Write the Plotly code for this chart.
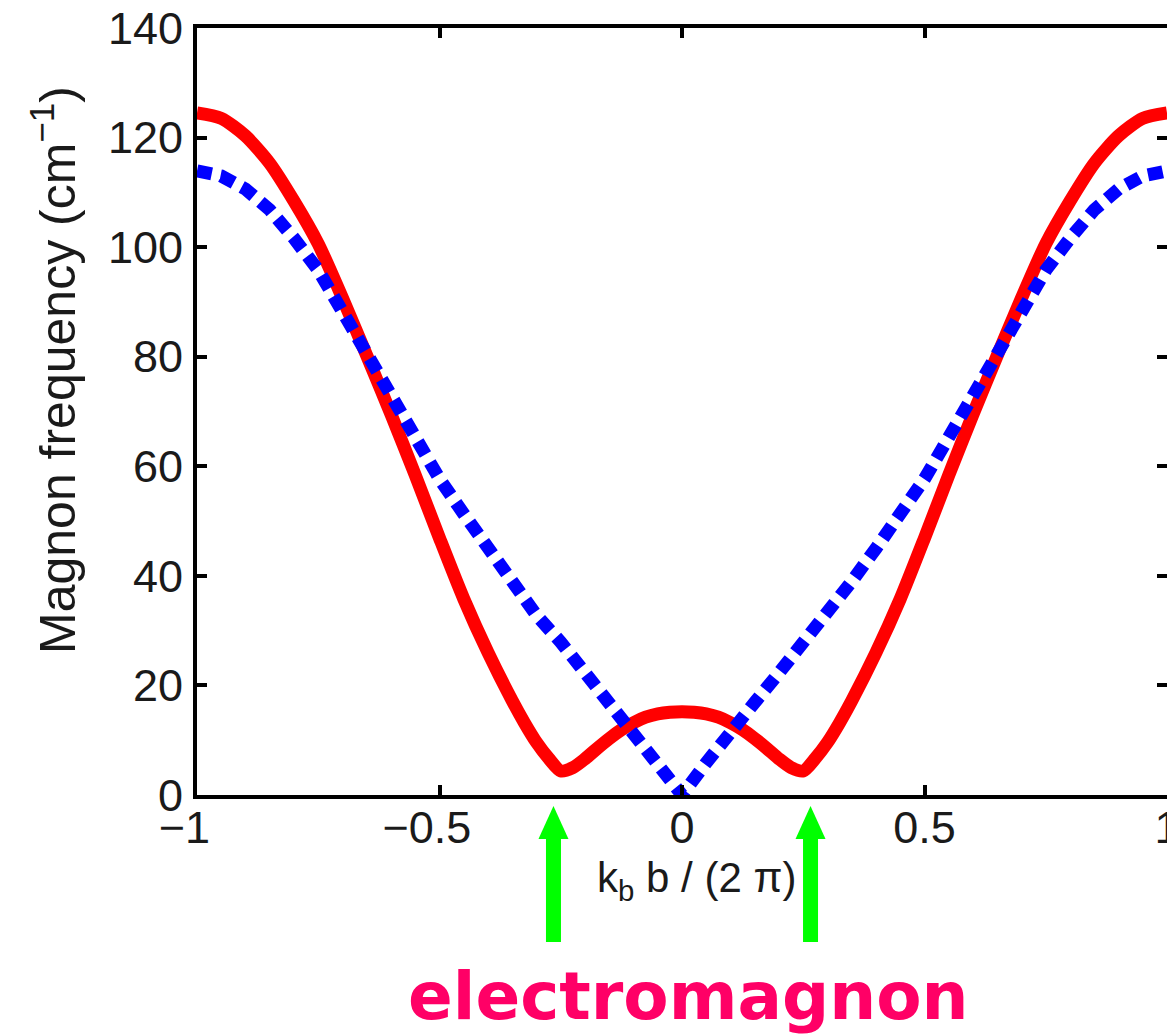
import plotly.graph_objects as go

# ---------------- data ----------------
k_red = [-1.0, -0.95, -0.9, -0.85, -0.8, -0.75, -0.7, -0.65, -0.6, -0.55, -0.5,
         -0.45, -0.4, -0.35, -0.325, -0.3, -0.275, -0.25, -0.225, -0.2, -0.175,
         -0.15, -0.125, -0.1, -0.075, -0.05, -0.025,
         0.0,
         0.025, 0.05, 0.075, 0.1, 0.125, 0.15, 0.175, 0.2, 0.225, 0.25, 0.275,
         0.3, 0.325, 0.35, 0.4, 0.45, 0.5, 0.55, 0.6, 0.65, 0.7, 0.75, 0.8, 0.85,
         0.9, 0.95, 1.0]
red_freq = [124.5, 123.5, 120.3, 115.3, 108.4, 100.6, 90.7, 80.2, 69.5, 58.4, 46.9,
            35.8, 26.0, 17.2, 13.2, 9.6, 6.7, 4.4, 5.0, 6.6, 8.5,
            10.3, 11.9, 13.2, 14.2, 14.8, 15.1,
            15.2,
            15.1, 14.8, 14.2, 13.2, 11.9, 10.3, 8.5, 6.6, 5.0, 4.4, 6.7,
            9.6, 13.2, 17.2, 26.0, 35.8, 46.9, 58.4, 69.5, 80.2, 90.7, 100.6, 108.4, 115.3,
            120.3, 123.5, 124.5]

k_blue = [-1.0, -0.95, -0.9, -0.85, -0.8, -0.75, -0.7, -0.65, -0.6, -0.55, -0.5,
          -0.45, -0.4, -0.35, -0.3, -0.25, -0.2, -0.15, -0.1, -0.05,
          0.0,
          0.05, 0.1, 0.15, 0.2, 0.25, 0.3, 0.35, 0.4, 0.45,
          0.5, 0.55, 0.6, 0.65, 0.7, 0.75, 0.8, 0.85, 0.9, 0.95, 1.0]
blue_freq = [113.9, 113.0, 110.6, 106.8, 101.6, 95.8, 88.2, 80.6, 73.1, 65.3, 57.7,
             51.3, 45.0, 39.0, 32.8, 27.9, 22.3, 16.9, 11.8, 5.9,
             0.0,
             5.9, 11.8, 16.9, 22.3, 27.9, 32.8, 39.0, 45.0, 51.3,
             57.7, 65.3, 73.1, 80.6, 88.2, 95.8, 101.6, 106.8, 110.6, 113.0, 113.9]

x_ticks = [-1, -0.5, 0, 0.5, 1]
x_tick_text = ["\u22121\u2007", "\u22120.5\u2007", "0", "0.5", "1"]
y_ticks = [0, 20, 40, 60, 80, 100, 120, 140]
y_tick_text = ["0", "20", "40", "60", "80", "100", "120", "140"]

electromagnon_k = [-0.265, 0.265]

# ---------------- layout constants ----------------
W, H = 1167, 1036
ML, MT, MR, MB = 197, 28, 0, 241
PW, PH = W - ML - MR, H - MT - MB
XMIN, XMAX = -1, 1
YMIN, YMAX = 0, 140


def px_x(px):
    return (px - ML) / PW


def px_y(py):
    return (H - MB - py) / PH


def k_to_paper(k):
    return (k - XMIN) / (XMAX - XMIN)


FONT = "Liberation Sans, Arial, Helvetica, sans-serif"
TXT = "#1a1a1a"

fig = go.Figure()
fig.add_trace(go.Scatter(x=k_red, y=red_freq, mode="lines",
                         line=dict(color="#ff0000", width=13, shape="spline", smoothing=0.7),
                         showlegend=False, hoverinfo="skip"))
fig.add_trace(go.Scatter(x=k_blue, y=blue_freq, mode="lines",
                         line=dict(color="#0000ff", width=13, dash="15px,9px"),
                         showlegend=False, hoverinfo="skip"))
# dummy trace for mirrored axes
fig.add_trace(go.Scatter(x=[XMIN, XMAX], y=[YMIN, YMIN], xaxis="x2", yaxis="y2",
                         mode="lines", line=dict(width=0, color="rgba(0,0,0,0)"),
                         showlegend=False, hoverinfo="skip"))

axis_common = dict(showgrid=False, zeroline=False, ticks="inside", ticklen=10,
                   tickwidth=4, tickcolor="black", linecolor="black", linewidth=4,
                   automargin=False)

fig.update_layout(
    width=W, height=H,
    margin=dict(l=ML, r=MR, t=MT, b=MB, pad=0, autoexpand=False),
    paper_bgcolor="white", plot_bgcolor="white",
    xaxis=dict(range=[XMIN, XMAX], tickvals=x_ticks, ticktext=x_tick_text,
               showline=True, tickfont=dict(family=FONT, size=45, color=TXT),
               ticklabelstandoff=-10, ticklabeloverflow="allow", **axis_common),
    yaxis=dict(range=[YMIN, YMAX], tickvals=y_ticks, ticktext=y_tick_text,
               showline=True, tickfont=dict(family=FONT, size=45, color=TXT),
               ticklabelstandoff=1, **axis_common),
    xaxis2=dict(range=[XMIN, XMAX], overlaying="x", side="top", tickvals=x_ticks,
                showticklabels=False, showline=True, **axis_common),
    yaxis2=dict(range=[YMIN, YMAX], overlaying="y", side="right", tickvals=y_ticks,
                showticklabels=False, showline=False, **axis_common),
)

annotations = [
    dict(text="Magnon frequency (cm<sup>\u22121</sup>)", xref="paper", yref="paper",
         x=px_x(54), y=px_y(370), xanchor="center", yanchor="middle", textangle=-90,
         showarrow=False, font=dict(family=FONT, size=50, color=TXT)),
    dict(text="k<sub>b</sub> b / (2 \u03c0)", xref="paper", yref="paper",
         x=px_x(696), y=px_y(852), xanchor="center", yanchor="top",
         showarrow=False, font=dict(family=FONT, size=42, color=TXT)),
    dict(text="electromagnon", xref="paper", yref="paper",
         x=px_x(688), y=px_y(996), xanchor="center", yanchor="middle",
         showarrow=False, font=dict(family="DejaVu Sans", size=66, color="#ff0066", weight="bold")),
]
fig.update_layout(annotations=annotations)

# green arrows (shaft + head) in paper coordinates
GREEN = "#00ff00"
shaft_hw = 7.5 / PW
head_hw = 15.0 / PW
y_tip, y_base, y_tail = px_y(806), px_y(839), px_y(942)
shapes = []
for k in electromagnon_k:
    xc = k_to_paper(k)
    shapes.append(dict(type="rect", xref="paper", yref="paper",
                       x0=xc - shaft_hw, x1=xc + shaft_hw, y0=y_tail, y1=y_base + 0.002,
                       fillcolor=GREEN, line=dict(width=0)))
    shapes.append(dict(type="path", xref="paper", yref="paper",
                       path=f"M {xc - head_hw},{y_base} L {xc + head_hw},{y_base} L {xc},{y_tip} Z",
                       fillcolor=GREEN, line=dict(width=0)))
fig.update_layout(shapes=shapes)

fig.write_html("out.html")
